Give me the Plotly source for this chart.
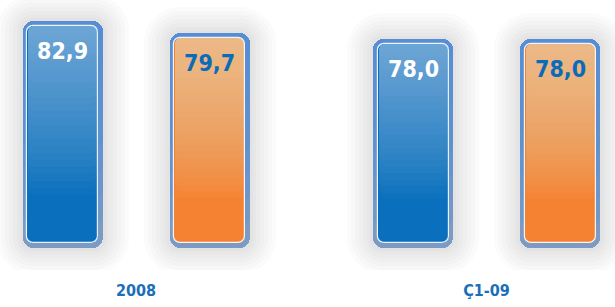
import plotly.graph_objects as go

# ---- data ----
categories = ["2008", "Ç1-09"]
series_blue = [82.9, 78.0]
series_orange = [79.7, 78.0]
value_labels_blue = ["82,9", "78,0"]
value_labels_orange = ["79,7", "78,0"]

# ---- scale / style constants ----
X_UNIT = 350.5        # px per category step
K = 3.685             # px per value unit
BASE = 21.3           # value at which the bars start (axis floor)
PX_X = 1.0 / X_UNIT
PX_Y = 1.0 / K
PLOT_H = 270
BASE_PX = 248
OFF = 73.5 * PX_X
OUTER_W = 80
INNER_W = 71
FRAME = 5
FONT = "Liberation Sans Narrow, DejaVu Sans Condensed, Arial Narrow, sans-serif"

styles = [
    dict(vals=series_blue, labels=value_labels_blue, off=-OFF,
         inner="#0a6fbd", tint=(255, 255, 255), tint_total=0.46, text="white"),
    dict(vals=series_orange, labels=value_labels_orange, off=OFF,
         inner="#f58232", tint=(236, 214, 172), tint_total=0.71, text="#0a6cb8"),
]

fig = go.Figure()
n = len(categories)

def add_bar(xs, base, y, width_px, color, radius, line_color=None, line_w=0, clip=True):
    fig.add_trace(go.Bar(
        x=xs, y=y, base=base, width=[width_px * PX_X] * len(xs),
        marker=dict(color=color, cornerradius=radius,
                    line=dict(color=line_color or "rgba(0,0,0,0)", width=line_w)),
        hoverinfo="skip", showlegend=False, cliponaxis=clip,
    ))

N_TINT = 24
for s in styles:
    xs = [i + s["off"] for i in range(n)]
    L = [v - BASE for v in s["vals"]]
    # glow
    for d in [26, 22, 18, 14, 10, 6, 3]:
        add_bar(xs, [BASE - d * PX_Y] * n, [l + 2 * d * PX_Y for l in L],
                OUTER_W + 2 * d, "rgba(0,0,0,0.017)", 10 + d, clip=False)
    # frame: grey-blue bottom, blue top
    add_bar(xs, [BASE] * n, L, OUTER_W, "#7b9bc4", 10)
    for j in range(1, 9):
        frac = 0.9 * j / 8
        add_bar(xs, [v - frac * l for v, l in zip(s["vals"], L)],
                [frac * l for l in L], OUTER_W, "rgba(80,142,212,0.22)", 10)
    # inner fill
    inner_L = [l - 2 * FRAME * PX_Y for l in L]
    add_bar(xs, [BASE + FRAME * PX_Y] * n, inner_L, INNER_W, s["inner"], 7)
    a = 1 - (1 - s["tint_total"]) ** (1.0 / N_TINT)
    r, g, b = s["tint"]
    for j in range(1, N_TINT + 1):
        frac = 0.78 * j / N_TINT
        add_bar(xs, [v - FRAME * PX_Y - frac * il for v, il in zip(s["vals"], inner_L)],
                [frac * il for il in inner_L], INNER_W - 2,
                f"rgba({r},{g},{b},{a:.4f})", 6)
    # white rim
    add_bar(xs, [BASE + FRAME * PX_Y] * n, inner_L, INNER_W, "rgba(0,0,0,0)", 7,
            line_color="rgba(255,255,255,0.9)", line_w=1.2)
    # value labels
    for x, v, t in zip(xs, s["vals"], s["labels"]):
        fig.add_annotation(x=x, y=v, text=t, showarrow=False, yanchor="middle",
                           yshift=-30, xshift=0,
                           font=dict(family=FONT, size=23, color=s["text"], weight="bold"))

fig.update_layout(
    width=615, height=307,
    margin=dict(l=0, r=0, t=0, b=307 - PLOT_H),
    paper_bgcolor="white", plot_bgcolor="white",
    barmode="overlay", bargap=0,
    xaxis=dict(range=[-136 * PX_X, 479 * PX_X], tickvals=list(range(n)), ticktext=categories,
               showgrid=False, zeroline=False, showline=False,
               ticks="outside", ticklen=6, tickcolor="rgba(0,0,0,0)",
               tickfont=dict(family=FONT, size=16, color="#1a6fb8", weight="bold")),
    yaxis=dict(range=[BASE - (PLOT_H - BASE_PX) * PX_Y, BASE + BASE_PX * PX_Y],
               visible=False, showgrid=False, zeroline=False),
)

fig.write_html("out.html", config={"displayModeBar": False},
               post_script="document.body.style.margin='0';")
